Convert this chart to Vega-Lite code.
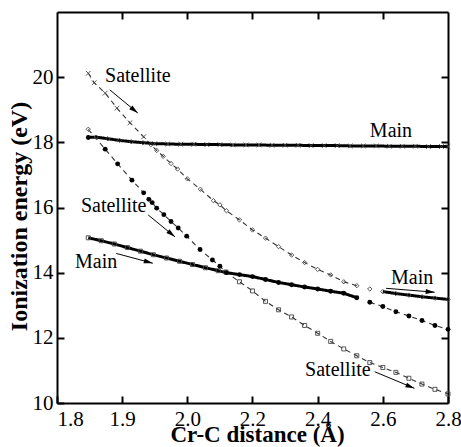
{
  "$schema": "https://vega.github.io/schema/vega-lite/v6.json",
  "width": 391,
  "height": 391,
  "autosize": "none",
  "padding": {"left": 57, "top": 12, "right": 13, "bottom": 44},
  "background": "white",
  "config": {
    "view": {"stroke": null},
    "font": "Liberation Serif",
    "axis": {
      "grid": false,
      "domainColor": "black",
      "domainWidth": 2,
      "tickColor": "black",
      "tickWidth": 2,
      "tickSize": -7,
      "labelFont": "Liberation Serif",
      "labelFontSize": 21,
      "labelColor": "black",
      "labelPadding": 11,
      "labelOverlap": false,
      "titleFont": "Liberation Serif",
      "titleFontSize": 24,
      "titleFontWeight": "bold",
      "titleColor": "black"
    }
  },
  "datasets": {
    "curves": [
      {"c": "U2", "k": "Satellite", "st": "cross", "x": 1.848, "y": 20.12},
      {"c": "U2", "k": "Satellite", "st": "cross", "x": 1.857, "y": 19.83},
      {"c": "U2", "k": "Satellite", "st": "cross", "x": 1.874, "y": 19.51},
      {"c": "U2", "k": "Satellite", "st": "cross", "x": 1.892, "y": 19.05},
      {"c": "U2", "k": "Satellite", "st": "cross", "x": 1.912, "y": 18.60},
      {"c": "U2", "k": "Satellite", "st": "cross", "x": 1.933, "y": 18.17},
      {"c": "U2", "k": "Satellite", "st": "diamond", "x": 1.944, "y": 17.93},
      {"c": "U2", "k": "Satellite", "st": "diamond", "x": 1.953, "y": 17.75},
      {"c": "U2", "k": "Satellite", "st": "diamond", "x": 1.963, "y": 17.57},
      {"c": "U2", "k": "Satellite", "st": "diamond", "x": 1.975, "y": 17.35},
      {"c": "U2", "k": "Satellite", "st": "diamond", "x": 1.985, "y": 17.18},
      {"c": "U2", "k": "Satellite", "st": "diamond", "x": 2.000, "y": 16.88},
      {"c": "U2", "k": "Satellite", "st": "diamond", "x": 2.040, "y": 16.56},
      {"c": "U2", "k": "Satellite", "st": "diamond", "x": 2.080, "y": 16.21},
      {"c": "U2", "k": "Satellite", "st": "diamond", "x": 2.100, "y": 16.08},
      {"c": "U2", "k": "Satellite", "st": "diamond", "x": 2.120, "y": 15.90},
      {"c": "U2", "k": "Satellite", "st": "diamond", "x": 2.160, "y": 15.62},
      {"c": "U2", "k": "Satellite", "st": "diamond", "x": 2.200, "y": 15.31},
      {"c": "U2", "k": "Satellite", "st": "diamond", "x": 2.240, "y": 15.06},
      {"c": "U2", "k": "Satellite", "st": "diamond", "x": 2.280, "y": 14.80},
      {"c": "U2", "k": "Satellite", "st": "diamond", "x": 2.320, "y": 14.54},
      {"c": "U2", "k": "Satellite", "st": "diamond", "x": 2.360, "y": 14.31},
      {"c": "U2", "k": "Satellite", "st": "diamond", "x": 2.400, "y": 14.10},
      {"c": "U2", "k": "Satellite", "st": "diamond", "x": 2.440, "y": 13.93},
      {"c": "U2", "k": "Satellite", "st": "diamond", "x": 2.480, "y": 13.72},
      {"c": "U2", "k": "Satellite", "st": "diamond", "x": 2.520, "y": 13.60},
      {"c": "ISO", "k": "Satellite", "st": "diamond", "x": 2.560, "y": 13.50},
      {"c": "R1", "k": "Main", "st": "diamond", "x": 2.600, "y": 13.42},
      {"c": "R1", "k": "Main", "st": "diamond", "x": 2.640, "y": 13.36},
      {"c": "R1", "k": "Main", "st": "diamond", "x": 2.680, "y": 13.31},
      {"c": "R1", "k": "Main", "st": "diamond", "x": 2.720, "y": 13.26},
      {"c": "R1", "k": "Main", "st": "diamond", "x": 2.760, "y": 13.22},
      {"c": "R1", "k": "Main", "st": "diamond", "x": 2.800, "y": 13.18},
      {"c": "U1", "k": "Main", "st": "dot", "x": 1.848, "y": 18.15},
      {"c": "U1", "k": "Main", "st": "diamond", "x": 1.860, "y": 18.16},
      {"c": "U1", "k": "Main", "st": "diamond", "x": 1.878, "y": 18.11},
      {"c": "U1", "k": "Main", "st": "diamond", "x": 1.896, "y": 18.06},
      {"c": "U1", "k": "Main", "st": "diamond", "x": 1.914, "y": 18.02},
      {"c": "U1", "k": "Main", "st": "diamond", "x": 1.932, "y": 17.99},
      {"c": "U1", "k": "Main", "st": "cross", "x": 1.950, "y": 17.96},
      {"c": "U1", "k": "Main", "st": "cross", "x": 1.970, "y": 17.95},
      {"c": "U1", "k": "Main", "st": "cross", "x": 1.990, "y": 17.94},
      {"c": "U1", "k": "Main", "st": "cross", "x": 2.020, "y": 17.94},
      {"c": "U1", "k": "Main", "st": "cross", "x": 2.060, "y": 17.93},
      {"c": "U1", "k": "Main", "st": "cross", "x": 2.100, "y": 17.93},
      {"c": "U1", "k": "Main", "st": "cross", "x": 2.140, "y": 17.92},
      {"c": "U1", "k": "Main", "st": "cross", "x": 2.180, "y": 17.92},
      {"c": "U1", "k": "Main", "st": "cross", "x": 2.220, "y": 17.92},
      {"c": "U1", "k": "Main", "st": "cross", "x": 2.260, "y": 17.91},
      {"c": "U1", "k": "Main", "st": "cross", "x": 2.300, "y": 17.91},
      {"c": "U1", "k": "Main", "st": "cross", "x": 2.340, "y": 17.91},
      {"c": "U1", "k": "Main", "st": "cross", "x": 2.380, "y": 17.90},
      {"c": "U1", "k": "Main", "st": "cross", "x": 2.420, "y": 17.90},
      {"c": "U1", "k": "Main", "st": "cross", "x": 2.460, "y": 17.90},
      {"c": "U1", "k": "Main", "st": "cross", "x": 2.500, "y": 17.89},
      {"c": "U1", "k": "Main", "st": "cross", "x": 2.540, "y": 17.89},
      {"c": "U1", "k": "Main", "st": "cross", "x": 2.580, "y": 17.89},
      {"c": "U1", "k": "Main", "st": "cross", "x": 2.620, "y": 17.88},
      {"c": "U1", "k": "Main", "st": "cross", "x": 2.660, "y": 17.88},
      {"c": "U1", "k": "Main", "st": "cross", "x": 2.700, "y": 17.88},
      {"c": "U1", "k": "Main", "st": "cross", "x": 2.740, "y": 17.87},
      {"c": "U1", "k": "Main", "st": "cross", "x": 2.780, "y": 17.87},
      {"c": "U1", "k": "Main", "st": "cross", "x": 2.800, "y": 17.87},
      {"c": "L1", "k": "Main", "st": "square", "x": 1.848, "y": 15.07},
      {"c": "L1", "k": "Main", "st": "square", "x": 1.868, "y": 14.98},
      {"c": "L1", "k": "Main", "st": "square", "x": 1.888, "y": 14.88},
      {"c": "L1", "k": "Main", "st": "square", "x": 1.908, "y": 14.77},
      {"c": "L1", "k": "Main", "st": "square", "x": 1.928, "y": 14.66},
      {"c": "L1", "k": "Main", "st": "square", "x": 1.948, "y": 14.55},
      {"c": "L1", "k": "Main", "st": "square", "x": 1.968, "y": 14.45},
      {"c": "L1", "k": "Main", "st": "square", "x": 1.988, "y": 14.35},
      {"c": "L1", "k": "Main", "st": "square", "x": 2.016, "y": 14.25},
      {"c": "L1", "k": "Main", "st": "square", "x": 2.056, "y": 14.15},
      {"c": "L1", "k": "Main", "st": "square", "x": 2.095, "y": 14.06},
      {"c": "L1", "k": "Main", "st": "dot", "x": 2.120, "y": 14.00},
      {"c": "L1", "k": "Main", "st": "dot", "x": 2.160, "y": 13.94},
      {"c": "L1", "k": "Main", "st": "dot", "x": 2.200, "y": 13.88},
      {"c": "L1", "k": "Main", "st": "dot", "x": 2.240, "y": 13.79},
      {"c": "L1", "k": "Main", "st": "dot", "x": 2.280, "y": 13.70},
      {"c": "L1", "k": "Main", "st": "dot", "x": 2.320, "y": 13.63},
      {"c": "L1", "k": "Main", "st": "dot", "x": 2.360, "y": 13.56},
      {"c": "L1", "k": "Main", "st": "dot", "x": 2.400, "y": 13.50},
      {"c": "L1", "k": "Main", "st": "dot", "x": 2.440, "y": 13.43},
      {"c": "L1", "k": "Main", "st": "dot", "x": 2.480, "y": 13.37},
      {"c": "L1", "k": "Main", "st": "dot", "x": 2.520, "y": 13.23},
      {"c": "L2", "k": "Satellite", "st": "diamond", "x": 1.848, "y": 18.40},
      {"c": "L2", "k": "Satellite", "st": "dot", "x": 1.874, "y": 17.79},
      {"c": "L2", "k": "Satellite", "st": "dot", "x": 1.893, "y": 17.34},
      {"c": "L2", "k": "Satellite", "st": "dot", "x": 1.915, "y": 16.84},
      {"c": "L2", "k": "Satellite", "st": "dot", "x": 1.933, "y": 16.45},
      {"c": "L2", "k": "Satellite", "st": "dot", "x": 1.941, "y": 16.25},
      {"c": "L2", "k": "Satellite", "st": "dot", "x": 1.946, "y": 16.15},
      {"c": "L2", "k": "Satellite", "st": "dot", "x": 1.953, "y": 15.98},
      {"c": "L2", "k": "Satellite", "st": "dot", "x": 1.964, "y": 15.78},
      {"c": "L2", "k": "Satellite", "st": "dot", "x": 1.975, "y": 15.57},
      {"c": "L2", "k": "Satellite", "st": "dot", "x": 1.986, "y": 15.37},
      {"c": "L2", "k": "Satellite", "st": "dot", "x": 1.999, "y": 15.12},
      {"c": "L2", "k": "Satellite", "st": "dot", "x": 2.039, "y": 14.71},
      {"c": "L2", "k": "Satellite", "st": "dot", "x": 2.077, "y": 14.39},
      {"c": "L2", "k": "Satellite", "st": "dot", "x": 2.100, "y": 14.20},
      {"c": "L2", "k": "Satellite", "st": "square", "x": 2.118, "y": 14.02},
      {"c": "L2", "k": "Satellite", "st": "square", "x": 2.160, "y": 13.72},
      {"c": "L2", "k": "Satellite", "st": "square", "x": 2.200, "y": 13.44},
      {"c": "L2", "k": "Satellite", "st": "square", "x": 2.240, "y": 13.12},
      {"c": "L2", "k": "Satellite", "st": "square", "x": 2.280, "y": 12.86},
      {"c": "L2", "k": "Satellite", "st": "square", "x": 2.320, "y": 12.64},
      {"c": "L2", "k": "Satellite", "st": "square", "x": 2.360, "y": 12.38},
      {"c": "L2", "k": "Satellite", "st": "square", "x": 2.400, "y": 12.14},
      {"c": "L2", "k": "Satellite", "st": "square", "x": 2.440, "y": 11.89},
      {"c": "L2", "k": "Satellite", "st": "square", "x": 2.480, "y": 11.66},
      {"c": "L2", "k": "Satellite", "st": "square", "x": 2.520, "y": 11.45},
      {"c": "L2", "k": "Satellite", "st": "square", "x": 2.560, "y": 11.24},
      {"c": "L2", "k": "Satellite", "st": "square", "x": 2.600, "y": 11.09},
      {"c": "L2", "k": "Satellite", "st": "square", "x": 2.640, "y": 10.94},
      {"c": "L2", "k": "Satellite", "st": "square", "x": 2.680, "y": 10.76},
      {"c": "L2", "k": "Satellite", "st": "square", "x": 2.720, "y": 10.58},
      {"c": "L2", "k": "Satellite", "st": "square", "x": 2.760, "y": 10.42},
      {"c": "L2", "k": "Satellite", "st": "square", "x": 2.800, "y": 10.28},
      {"c": "R2", "k": "Satellite", "st": "dot", "x": 2.560, "y": 13.09},
      {"c": "R2", "k": "Satellite", "st": "dot", "x": 2.600, "y": 12.96},
      {"c": "R2", "k": "Satellite", "st": "dot", "x": 2.640, "y": 12.80},
      {"c": "R2", "k": "Satellite", "st": "dot", "x": 2.680, "y": 12.67},
      {"c": "R2", "k": "Satellite", "st": "dot", "x": 2.720, "y": 12.53},
      {"c": "R2", "k": "Satellite", "st": "dot", "x": 2.760, "y": 12.38},
      {"c": "R2", "k": "Satellite", "st": "dot", "x": 2.800, "y": 12.26}
    ],
    "labels": [
      {"t": "Satellite", "x": 1.924, "y": 20.04},
      {"t": "Main", "x": 2.625, "y": 18.35},
      {"t": "Satellite", "x": 1.887, "y": 16.05},
      {"t": "Main", "x": 1.860, "y": 14.33},
      {"t": "Main", "x": 2.690, "y": 13.85},
      {"t": "Satellite", "x": 2.462, "y": 11.01}
    ],
    "arrows": [
      {"id": 1, "x": 1.881, "y": 19.61, "x2": 1.924, "y2": 18.90},
      {"id": 2, "x": 1.940, "y": 15.77, "x2": 1.981, "y2": 15.10},
      {"id": 3, "x": 1.891, "y": 14.59, "x2": 1.947, "y2": 14.29},
      {"id": 4, "x": 2.610, "y": 13.52, "x2": 2.759, "y2": 13.40},
      {"id": 5, "x": 2.575, "y": 10.96, "x2": 2.697, "y2": 10.45}
    ]
  },
  "resolve": {"axis": {"x": "independent", "y": "independent"}},
  "layer": [
    {
      "data": {"name": "curves"},
      "mark": {"type": "line", "strokeCap": "butt"},
      "encoding": {
        "x": {
          "field": "x", "type": "quantitative",
          "scale": {"domain": [1.8, 2.0, 2.8], "range": [0, 130.33, 391], "nice": false, "zero": false},
          "axis": {
            "orient": "bottom",
            "values": [1.8, 1.9, 2.0, 2.2, 2.4, 2.6, 2.8],
            "format": ".1f",
            "labelPadding": 12,
            "labelAlign": {"condition": {"test": "datum.value < 1.85", "value": "left"}, "value": "center"},
            "title": "Cr-C distance (Å)",
            "titleFontSize": 23,
            "titlePadding": -6,
            "titleX": 200
          }
        },
        "y": {
          "field": "y", "type": "quantitative",
          "scale": {"domain": [10, 22], "nice": false, "zero": false},
          "axis": {
            "orient": "left",
            "values": [10, 12, 14, 16, 18, 20],
            "labelPadding": 11,
            "title": "Ionization energy (eV)",
            "titlePadding": 1,
            "titleY": 204
          }
        },
        "detail": {"field": "c"},
        "color": {"field": "k", "type": "nominal", "scale": {"domain": ["Main", "Satellite"], "range": ["#000000", "#333333"]}, "legend": null},
        "strokeDash": {"field": "k", "type": "nominal", "scale": {"domain": ["Main", "Satellite"], "range": [[1, 0], [5, 4]]}, "legend": null},
        "strokeWidth": {"field": "k", "type": "nominal", "scale": {"domain": ["Main", "Satellite"], "range": [3, 1.1]}, "legend": null}
      }
    },
    {
      "data": {"name": "curves"},
      "transform": [{"filter": "datum.st != 'dot'"}],
      "mark": {"type": "point", "filled": false, "color": "#444444", "strokeWidth": 0.9, "opacity": 1},
      "encoding": {
        "x": {
          "field": "x", "type": "quantitative",
          "scale": {"domain": [1.8, 2.0, 2.8], "range": [0, 130.33, 391], "nice": false, "zero": false},
          "axis": {"orient": "top", "values": [1.9, 2.0, 2.2, 2.4, 2.6], "labels": false, "title": null}
        },
        "y": {
          "field": "y", "type": "quantitative",
          "scale": {"domain": [10, 22], "nice": false, "zero": false},
          "axis": {"orient": "right", "values": [12, 14, 16, 18, 20], "labels": false, "title": null}
        },
        "shape": {"field": "st", "type": "nominal", "scale": {"domain": ["cross", "diamond", "square"], "range": ["M-1,-1L1,1M-1,1L1,-1", "diamond", "square"]}, "legend": null},
        "size": {"field": "st", "type": "nominal", "scale": {"domain": ["cross", "diamond", "square"], "range": [22, 16, 16]}, "legend": null}
      }
    },
    {
      "data": {"name": "curves"},
      "transform": [{"filter": "datum.st == 'dot'"}],
      "mark": {"type": "circle", "color": "#000000", "opacity": 1, "size": 24},
      "encoding": {
        "x": {"field": "x", "type": "quantitative", "scale": {"domain": [1.8, 2.0, 2.8], "range": [0, 130.33, 391], "nice": false, "zero": false}, "axis": null},
        "y": {"field": "y", "type": "quantitative", "scale": {"domain": [10, 22], "nice": false, "zero": false}, "axis": null}
      }
    },
    {
      "data": {"name": "labels"},
      "mark": {"type": "text", "font": "Liberation Serif", "fontSize": 20, "color": "#000000", "align": "center", "baseline": "middle"},
      "encoding": {
        "x": {"field": "x", "type": "quantitative", "axis": null},
        "y": {"field": "y", "type": "quantitative", "axis": null},
        "text": {"field": "t"}
      }
    },
    {
      "data": {"name": "arrows"},
      "mark": {"type": "rule", "color": "#000000", "strokeWidth": 1},
      "encoding": {
        "x": {"field": "x", "type": "quantitative", "axis": null},
        "y": {"field": "y", "type": "quantitative", "axis": null},
        "x2": {"field": "x2"},
        "y2": {"field": "y2"}
      }
    },
    {
      "data": {"name": "arrows"},
      "transform": [{"filter": "datum.id <= 2"}],
      "mark": {"type": "point", "shape": "M0,0L-1,-0.28L-1,0.28Z", "filled": true, "color": "#000000", "opacity": 1, "size": 324, "angle": 39},
      "encoding": {
        "x": {"field": "x2", "type": "quantitative", "axis": null},
        "y": {"field": "y2", "type": "quantitative", "axis": null}
      }
    },
    {
      "data": {"name": "arrows"},
      "transform": [{"filter": "datum.id == 3"}],
      "mark": {"type": "point", "shape": "M0,0L-1,-0.28L-1,0.28Z", "filled": true, "color": "#000000", "opacity": 1, "size": 324, "angle": 15},
      "encoding": {
        "x": {"field": "x2", "type": "quantitative", "axis": null},
        "y": {"field": "y2", "type": "quantitative", "axis": null}
      }
    },
    {
      "data": {"name": "arrows"},
      "transform": [{"filter": "datum.id == 4"}],
      "mark": {"type": "point", "shape": "M0,0L-1,-0.28L-1,0.28Z", "filled": true, "color": "#000000", "opacity": 1, "size": 324, "angle": 5},
      "encoding": {
        "x": {"field": "x2", "type": "quantitative", "axis": null},
        "y": {"field": "y2", "type": "quantitative", "axis": null}
      }
    },
    {
      "data": {"name": "arrows"},
      "transform": [{"filter": "datum.id == 5"}],
      "mark": {"type": "point", "shape": "M0,0L-1,-0.28L-1,0.28Z", "filled": true, "color": "#000000", "opacity": 1, "size": 324, "angle": 22},
      "encoding": {
        "x": {"field": "x2", "type": "quantitative", "axis": null},
        "y": {"field": "y2", "type": "quantitative", "axis": null}
      }
    }
  ]
}
